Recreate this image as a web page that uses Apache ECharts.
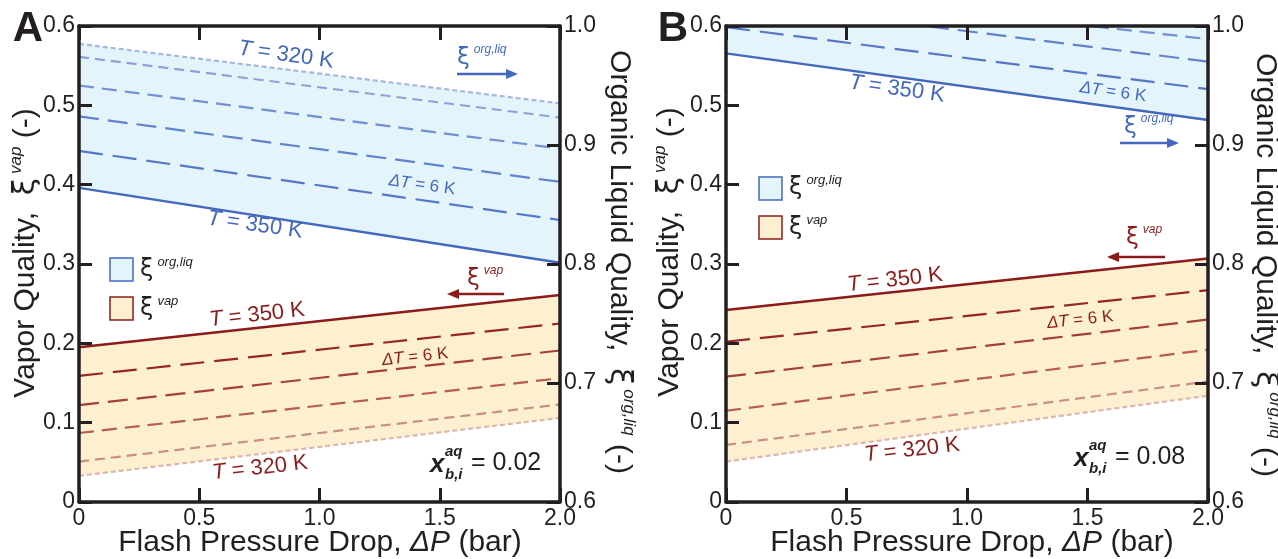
<!DOCTYPE html>
<html>
<head>
<meta charset="utf-8">
<script src="https://cdn.jsdelivr.net/npm/echarts@6/dist/echarts.min.js"></script>
<style>
  html, body { margin: 0; padding: 0; background: #fff; }
  #chart { width: 1278px; height: 559px; }
</style>
</head>
<body>
<div id="chart"></div>
<script>
// ---- data ----
// x = flash pressure drop (bar); lines run T = 320, 326, 332, 338, 344, 350 K
const xEnds = [0, 2.0];

// panel A (x_b,i = 0.02): organic liquid quality, right axis
const aLiq320 = [0.985, 0.935];
const aLiq326 = [0.974, 0.923];
const aLiq332 = [0.950, 0.897];
const aLiq338 = [0.924, 0.869];
const aLiq344 = [0.895, 0.837];
const aLiq350 = [0.864, 0.801];
// panel A: vapor quality, left axis
const aVap320 = [0.033, 0.106];
const aVap326 = [0.051, 0.123];
const aVap332 = [0.087, 0.156];
const aVap338 = [0.122, 0.191];
const aVap344 = [0.159, 0.225];
const aVap350 = [0.195, 0.261];

// panel B (x_b,i = 0.08): organic liquid quality (capped at 1.0)
const bLiq320 = [1.0, 1.0];
const bLiq326 = [1.0, 1.0];
const bLiq332X = [0, 1.51, 2.0];
const bLiq332 = [1.0, 1.0, 0.989];
const bLiq338X = [0, 0.83, 2.0];
const bLiq338 = [1.0, 1.0, 0.970];
const bLiq344 = [0.999, 0.947];
const bLiq350 = [0.977, 0.921];
// panel B: vapor quality
const bVap320 = [0.051, 0.134];
const bVap326 = [0.072, 0.152];
const bVap332 = [0.115, 0.192];
const bVap338 = [0.158, 0.230];
const bVap344 = [0.202, 0.267];
const bVap350 = [0.242, 0.307];

// ---- styling ----
const FONT = 'Liberation Sans, Arial, Helvetica, sans-serif';
const GREEK = 'DejaVu Sans, Liberation Sans, sans-serif';
const INK = '#231f20';
const BLUE = '#4468bd';
const RED = '#8c1c1c';
const BLUE_FILL = '#e4f4fb';
const RED_FILL = '#fdf0d0';
const blueShades = ['#a5b8e1', '#8ba3d8', '#7390d0', '#6283cb', '#5677c5', BLUE];
const redShades = ['#dfb6ae', '#c98f87', '#b55c55', '#a3403b', '#962528', RED];
const dashes = [[5, 3], [10, 6], [15, 8], [20, 9], [24, 10], 'solid'];

const chart = echarts.init(document.getElementById('chart'));

function xAxis(gi, pos, showLabel) {
  return {
    type: 'value', gridIndex: gi, position: pos, min: 0, max: 2, interval: 0.5, z: 5,
    axisLine: { show: true, onZero: false, lineStyle: { color: INK, width: 3.5 } },
    axisTick: { show: true, inside: true, length: 14, lineStyle: { color: INK, width: 3 } },
    axisLabel: {
      show: showLabel, color: INK, fontSize: 23, fontFamily: FONT, margin: 5,
      formatter: v => (v === 0 ? '0' : v.toFixed(1))
    },
    splitLine: { show: false }
  };
}
function yAxis(gi, pos, min, max, showLabel) {
  return {
    type: 'value', gridIndex: gi, position: pos, min: min, max: max, interval: 0.1, z: 5,
    axisLine: { show: true, onZero: false, lineStyle: { color: INK, width: 3.5 } },
    axisTick: { show: true, inside: true, length: 13, lineStyle: { color: INK, width: 3 } },
    axisLabel: {
      show: showLabel, color: INK, fontSize: 23, fontFamily: FONT, margin: 4,
      formatter: v => (v === 0 ? '0' : v.toFixed(1))
    },
    splitLine: { show: false }
  };
}

function line(xi, yi, xs, ys, k, shades) {
  return {
    type: 'line', xAxisIndex: xi, yAxisIndex: yi, z: 3, silent: true,
    symbol: 'none', showSymbol: false,
    data: xs.map((x, i) => [x, ys[i]]),
    lineStyle: { color: shades[k], width: k === 5 ? 2.4 : 2.2, type: dashes[k] }
  };
}
function band(xi, yi, xs, lo, hi, fill) {
  return {
    type: 'custom', xAxisIndex: xi, yAxisIndex: yi, z: 1, silent: true,
    data: [[xs[0], lo[0]]],
    renderItem: (params, api) => {
      const top = xs.map((x, i) => api.coord([x, hi[i]]));
      const bot = xs.map((x, i) => api.coord([x, lo[i]])).reverse();
      return { type: 'polygon', shape: { points: top.concat(bot) }, style: { fill: fill } };
    }
  };
}

const series = [
  band(0, 1, xEnds, aLiq350, aLiq320, BLUE_FILL),
  band(0, 0, xEnds, aVap320, aVap350, RED_FILL),
  band(2, 3, xEnds, bLiq350, bLiq320, BLUE_FILL),
  band(2, 2, xEnds, bVap320, bVap350, RED_FILL)
];
[aLiq320, aLiq326, aLiq332, aLiq338, aLiq344, aLiq350].forEach((ys, k) => series.push(line(0, 1, xEnds, ys, k, blueShades)));
[aVap320, aVap326, aVap332, aVap338, aVap344, aVap350].forEach((ys, k) => series.push(line(0, 0, xEnds, ys, k, redShades)));
series.push(line(2, 3, xEnds, bLiq320, 0, blueShades));
series.push(line(2, 3, xEnds, bLiq326, 1, blueShades));
series.push(line(2, 3, bLiq332X, bLiq332, 2, blueShades));
series.push(line(2, 3, bLiq338X, bLiq338, 3, blueShades));
series.push(line(2, 3, xEnds, bLiq344, 4, blueShades));
series.push(line(2, 3, xEnds, bLiq350, 5, blueShades));
[bVap320, bVap326, bVap332, bVap338, bVap344, bVap350].forEach((ys, k) => series.push(line(2, 2, xEnds, ys, k, redShades)));

// ---- annotations ----
function rt(size, color, extra) {
  return Object.assign({ fontSize: size, fontFamily: FONT, fontStyle: 'normal', fontWeight: 'normal', fill: color, color: color }, extra || {});
}
function text(x, y, str, size, color, opt) {
  opt = opt || {};
  const align = opt.align || 'center';
  return {
    type: 'text', x: x, y: y, rotation: opt.rot || 0, z: 10, silent: true,
    style: Object.assign(rt(size, color, { fontWeight: opt.weight || 'normal', fontStyle: opt.italic ? 'italic' : 'normal' }), {
      text: str, align: align, textAlign: align, verticalAlign: 'middle', textVerticalAlign: 'middle',
      rich: opt.rich || {}
    })
  };
}
function tempLabel(x, y, t, color, rot) {
  return text(x, y, '{i|T} = ' + t + ' K', 22, color, { rot: rot, rich: { i: rt(22, color, { fontStyle: 'italic' }) } });
}
function dtLabel(x, y, color, rot) {
  return text(x, y, '{i|ΔT} = 6 K', 17, color, { rot: rot, rich: { i: rt(17, color, { fontStyle: 'italic' }) } });
}
function xiLabel(x, y, sup, size, color) {
  return text(x, y, '{x|ξ}{s|' + sup + '}', size, color, {
    align: 'left',
    rich: {
      x: rt(size + 3, color, { fontFamily: GREEK, lineHeight: size + 8 }),
      s: rt(Math.round(size * 0.62), color, { fontStyle: 'italic', verticalAlign: 'top', padding: [0, 0, 0, 4] })
    }
  });
}
function arrow(x1, x2, y, color) {
  const dir = x2 > x1 ? 1 : -1;
  return [
    { type: 'line', z: 10, silent: true, shape: { x1: x1, y1: y, x2: x2 - dir * 8, y2: y }, style: { stroke: color, lineWidth: 2.4 } },
    { type: 'polygon', z: 10, silent: true, shape: { points: [[x2, y], [x2 - dir * 12, y - 5], [x2 - dir * 12, y + 5]] }, style: { fill: color } }
  ];
}
function legendBox(x, y, fill, stroke) {
  return { type: 'rect', z: 10, silent: true, shape: { x: x, y: y, width: 23, height: 23 }, style: { fill: fill, stroke: stroke, lineWidth: 1.5 } };
}
function compLabel(x, y, val) {
  return [
    text(x, y + 2, 'x', 26, INK, { align: 'left', italic: true, weight: 'bold' }),
    text(x + 15, y - 11, 'aq', 15, INK, { align: 'left', italic: true, weight: 'bold' }),
    text(x + 15, y + 12, 'b,i', 15, INK, { align: 'left', italic: true, weight: 'bold' }),
    text(x + 41, y, '= ' + val, 25, INK, { align: 'left' })
  ];
}
function yTitle(x, y, rot, main, sup) {
  return text(x, y, '{t|' + main + '  }{x|ξ}{s|' + sup + '}{t| (-)}', 30, INK, {
    rot: rot,
    rich: {
      t: rt(30, INK, { lineHeight: 36 }),
      x: rt(31, INK, { fontFamily: GREEK }),
      s: rt(17, INK, { fontStyle: 'italic', verticalAlign: 'top', padding: [0, 0, 0, 4] })
    }
  });
}
function xTitle(x, y) {
  return text(x, y, '{t|Flash Pressure Drop, }{i|ΔP}{t| (bar)}', 30, INK, {
    rich: { t: rt(30, INK), i: rt(30, INK, { fontStyle: 'italic' }) }
  });
}

const BROT = -0.14;   // blue labels follow falling lines
const RROT = 0.11;    // red labels follow rising lines

const graphic = [
  text(28, 29, 'A', 42, INK, { weight: 'bold' }),
  text(673, 29, 'B', 42, INK, { weight: 'bold' }),

  yTitle(26, 253, Math.PI / 2, 'Vapor Quality,', 'vap'),
  yTitle(619, 262, -Math.PI / 2, 'Organic Liquid Quality,', 'org,liq'),
  yTitle(670, 252, Math.PI / 2, 'Vapor Quality,', 'vap'),
  yTitle(1265, 265, -Math.PI / 2, 'Organic Liquid Quality,', 'org,liq'),
  xTitle(320, 543),
  xTitle(972, 543),

  // panel A
  tempLabel(286, 55, 320, BLUE, BROT),
  dtLabel(422, 185, BLUE, BROT),
  tempLabel(255, 225, 350, BLUE, BROT),
  tempLabel(257, 315, 350, RED, RROT),
  dtLabel(415, 357, RED, RROT),
  tempLabel(260, 468, 320, RED, RROT),
  xiLabel(457, 58, 'org,liq', 20, BLUE),
  ...arrow(457, 518, 74, BLUE),
  xiLabel(467, 279, 'vap', 20, RED),
  ...arrow(504, 447, 294, RED),
  legendBox(110, 258, BLUE_FILL, BLUE),
  legendBox(110, 297, RED_FILL, RED),
  xiLabel(140, 270, 'org,liq', 21, INK),
  xiLabel(140, 309, 'vap', 21, INK),
  ...compLabel(430, 463, '0.02'),

  // panel B
  tempLabel(897, 89, 350, BLUE, BROT),
  dtLabel(1113, 92, BLUE, BROT),
  xiLabel(1124, 127, 'org,liq', 20, BLUE),
  ...arrow(1120, 1179, 143, BLUE),
  xiLabel(1126, 238, 'vap', 20, RED),
  ...arrow(1165, 1107, 257, RED),
  tempLabel(895, 280, 350, RED, RROT),
  dtLabel(1080, 320, RED, RROT),
  tempLabel(912, 450, 320, RED, RROT),
  legendBox(759, 177, BLUE_FILL, BLUE),
  legendBox(759, 216, RED_FILL, RED),
  xiLabel(789, 188, 'org,liq', 21, INK),
  xiLabel(789, 228, 'vap', 21, INK),
  ...compLabel(1074, 457, '0.08')
];

chart.setOption({
  animation: false,
  backgroundColor: '#fff',
  grid: [
    { left: 79, top: 26, width: 481, height: 476 },
    { left: 726, top: 26, width: 482, height: 476 }
  ],
  xAxis: [xAxis(0, 'bottom', true), xAxis(0, 'top', false), xAxis(1, 'bottom', true), xAxis(1, 'top', false)],
  yAxis: [yAxis(0, 'left', 0, 0.6, true), yAxis(0, 'right', 0.6, 1.0, true), yAxis(1, 'left', 0, 0.6, true), yAxis(1, 'right', 0.6, 1.0, true)],
  series: series,
  graphic: graphic
});
</script>
</body>
</html>
